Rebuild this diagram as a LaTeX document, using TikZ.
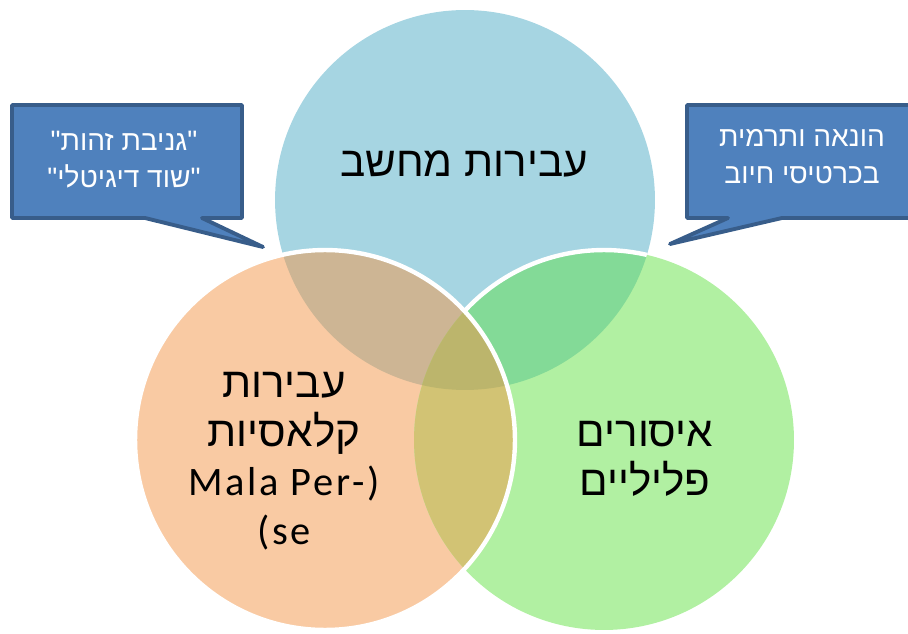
\documentclass[tikz,border=0pt]{standalone}
\usepackage{fontspec}
\setmainfont{Carlito}
\newfontfamily\hebfont[Script=Hebrew]{Liberation Sans}
\newfontfamily\latinfont[LetterSpace=7]{Carlito}
\TeXXeTstate=1
\usepackage{tikz}
\definecolor{circblue}{HTML}{A6D5E2}
\definecolor{circorange}{HTML}{F9CAA3}
\definecolor{circgreen}{HTML}{B1F0A2}
\definecolor{blueorange}{HTML}{CDB594}
\definecolor{bluegreen}{HTML}{83DA97}
\definecolor{orangegreen}{HTML}{D2C374}
\definecolor{allthree}{HTML}{BCB56C}
\definecolor{bubblefill}{HTML}{4F81BD}
\definecolor{bubbleedge}{HTML}{385D8A}
\newcommand{\heb}[1]{{\hebfont\beginR #1\endR}}
\newcommand{\lat}[1]{{\fontsize{23}{28}\latinfont #1}}
\newcommand{\dq}{\char34\relax}
\tikzset{
	bubble/.style={draw=bubbleedge, fill=bubblefill, line width=2.2pt, line join=round},
	bubbletext/.style={text=white, align=center, font=\fontsize{16}{21}\selectfont},
	venntext/.style={align=center, font=\fontsize{24}{28}\selectfont},
	rim/.style={white, line width=2.5pt}
}

\begin{document}
\begin{tikzpicture}[x=0.02cm,y=-0.02cm]
	\useasboundingbox (0,0) rectangle (908,634);
	\clip (0,0) rectangle (908,634);
	
	\coordinate (cTop) at (465,200);
	\coordinate (cLeft) at (325,440);
	\coordinate (cRight) at (604,440);
	
	\fill[circblue] (cTop) circle [radius=3.8cm];
	\fill[circorange] (cLeft) circle [radius=3.8cm];
	\fill[circgreen] (cRight) circle [radius=3.8cm];
	\begin{scope}
		\clip (cTop) circle [radius=3.8cm];
		\fill[blueorange] (cLeft) circle [radius=3.8cm];
		\fill[bluegreen] (cRight) circle [radius=3.8cm];
	\end{scope}
	\begin{scope}
		\clip (cLeft) circle [radius=3.8cm];
		\fill[orangegreen] (cRight) circle [radius=3.8cm];
		\clip (cTop) circle [radius=3.8cm];
		\fill[allthree] (cRight) circle [radius=3.8cm];
	\end{scope}
	\begin{scope}
		\clip (cTop) circle [radius=3.8cm];
		\clip (464.5,0) rectangle (908,634);
		\draw[rim] (cRight) circle [radius=3.8cm];
	\end{scope}
	\draw[rim] (cLeft) circle [radius=3.8cm];
	
	\draw[bubble] (12,105) -- (242,105) -- (242,218) -- (202,218) -- (263,247) -- (145,218) -- (12,218) -- cycle;
	\draw[bubble] (687,105) -- (915,105) -- (915,218) -- (782,218) -- (670,244) -- (728,218) -- (687,218) -- cycle;
	
	\node[venntext] (computer) at (464,164) {\heb{עבירות מחשב}};
	\node[venntext] (classic) at (284,461) {\heb{עבירות}\\ \heb{קלאסיות}\\ \lat{Mala Per-)}\\ \lat{(se}};
	\node[venntext] (penal) at (645,459) {\heb{איסורים}\\ \heb{פליליים}};
	\node[bubbletext] (identity) at (124,160) {\heb{\dq גניבת זהות\dq}\\ \heb{\dq שוד דיגיטלי\dq}};
	\node[bubbletext] (fraud) at (802,157) {\heb{הונאה ותרמית}\\ \heb{בכרטיסי חיוב}};
\end{tikzpicture}
\end{document}
